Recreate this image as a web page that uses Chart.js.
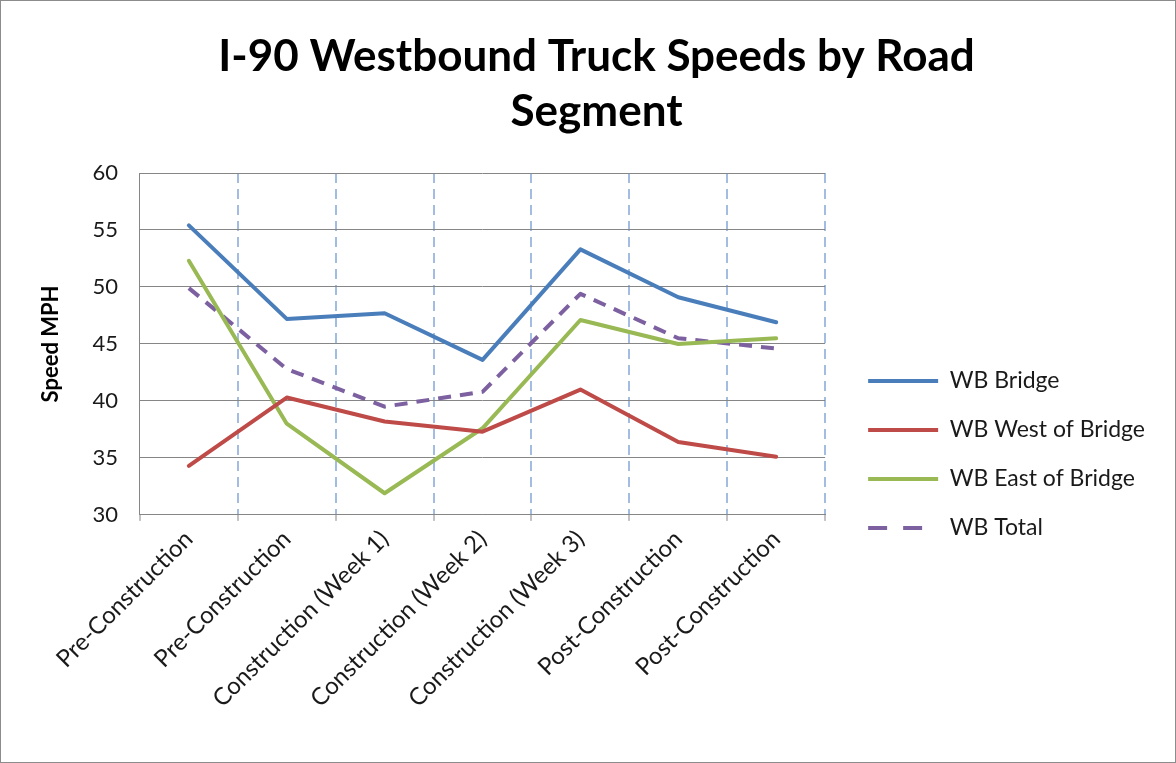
<!DOCTYPE html>
<html>
<head>
<meta charset="utf-8">
<script src="https://cdn.jsdelivr.net/npm/chart.js@4.4.1/dist/chart.umd.min.js"></script>
<style>
  html, body { margin: 0; padding: 0; background: #fff; }
  #wrap { width: 1174px; height: 761px; border: 1px solid #8c8c8c; }
</style>
</head>
<body>
<div id="wrap"><canvas id="speedChart" width="1174" height="761"></canvas></div>
<script>
// categories along the bottom
var categories = ['Pre-Construction', 'Pre-Construction', 'Construction (Week 1)', 'Construction (Week 2)',
    'Construction (Week 3)', 'Post-Construction', 'Post-Construction'];

// speeds in MPH
var wbBridge = [55.4, 47.2, 47.7, 43.6, 53.3, 49.1, 46.9];
var wbWest   = [34.3, 40.3, 38.2, 37.3, 41.0, 36.4, 35.1];
var wbEast   = [52.3, 38.0, 31.9, 37.6, 47.1, 45.0, 45.5];
var wbTotal  = [49.9, 42.8, 39.5, 40.8, 49.4, 45.5, 44.6];

var yTicks = [30, 35, 40, 45, 50, 55, 60];

var ink = '#1a1a1a';
var fontName = 'Lato, "Open Sans", sans-serif';

function lineSet(label, values, color, dash) {
    return {
        label: label,
        data: values,
        borderColor: color,
        backgroundColor: color,
        borderWidth: 4,
        borderDash: dash || [],
        borderJoinStyle: 'round',
        borderCapStyle: dash ? 'butt' : 'round',
        pointRadius: 0,
        pointHoverRadius: 0,
        tension: 0,
        fill: false
    };
}

var ctx = document.getElementById('speedChart').getContext('2d');
var chart = new Chart(ctx, {
    type: 'line',
    data: {
        labels: categories,
        datasets: [
            lineSet('WB Bridge', wbBridge, '#4a7ebb'),
            lineSet('WB West of Bridge', wbWest, '#be4b48'),
            lineSet('WB East of Bridge', wbEast, '#98b954'),
            lineSet('WB Total', wbTotal, '#7d60a0', [13, 9])
        ]
    },
    options: {
        responsive: false,
        animation: false,
        layout: { padding: { left: 37, right: 20, top: 0, bottom: 45 } },
        plugins: {
            title: {
                display: true,
                text: ['I-90 Westbound Truck Speeds by Road', 'Segment'],
                color: '#000',
                font: { family: fontName, size: 44, weight: 'bold', lineHeight: 1.25 },
                padding: { top: 28, bottom: 34 }
            },
            legend: {
                position: 'right',
                maxWidth: 420,
                // empty title only pushes the entries down to sit beside the lower plot
                title: { display: true, text: ' ', font: { size: 10, lineHeight: 1.2 }, padding: { top: 179, bottom: 0 } },
                labels: {
                    color: ink,
                    font: { family: fontName, size: 23 },
                    usePointStyle: true,
                    pointStyleWidth: 70,
                    padding: 26,
                    generateLabels: function (c) {
                        return c.data.datasets.map(function (ds, i) {
                            var dashed = ds.borderDash && ds.borderDash.length > 0;
                            return {
                                text: ds.label,
                                fontColor: ink,
                                strokeStyle: ds.borderColor,
                                fillStyle: ds.borderColor,
                                lineWidth: 4,
                                lineDash: dashed ? [19, 16] : [],
                                lineCap: 'butt',
                                pointStyle: 'line',
                                datasetIndex: i
                            };
                        });
                    }
                }
            },
            tooltip: { enabled: false }
        },
        scales: {
            x: {
                offset: true,
                grid: {
                    offset: true,
                    // no dashed line on top of the left axis
                    color: function (c) { return c.index === 0 ? 'rgba(0,0,0,0)' : '#a3bde2'; },
                    lineWidth: 2,
                    tickColor: '#868686',
                    tickWidth: 1,
                    tickLength: 6
                },
                border: { color: '#868686', width: 1, dash: [10, 6] },
                ticks: {
                    color: ink,
                    font: { family: fontName, size: 24 },
                    minRotation: 45,
                    maxRotation: 45,
                    autoSkip: false,
                    padding: 4
                }
            },
            y: {
                min: 30,
                max: 60,
                afterBuildTicks: function (axis) {
                    axis.ticks = yTicks.map(function (v) { return { value: v }; });
                },
                grid: { color: '#868686', drawTicks: false },
                border: { color: '#868686', width: 1 },
                ticks: {
                    color: ink,
                    font: { family: fontName, size: 22 },
                    padding: 22
                },
                title: {
                    display: true,
                    text: 'Speed MPH',
                    color: '#000',
                    font: { family: fontName, size: 22, weight: 'bold' },
                    padding: { top: 0, bottom: 6 }
                }
            },
            // spacer between the plot and the legend
            gap: {
                type: 'linear',
                position: 'right',
                display: true,
                grid: { display: false },
                border: { display: false },
                ticks: { display: false },
                afterFit: function (s) { s.width = 17; }
            }
        }
    }
});
</script>
</body>
</html>
